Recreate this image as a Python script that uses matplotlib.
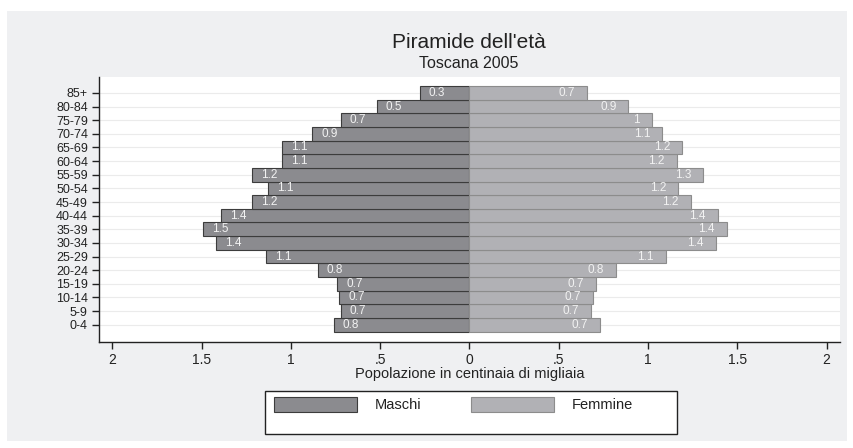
import matplotlib
matplotlib.use('Agg')
import matplotlib.pyplot as plt
from matplotlib.patches import Rectangle, Patch
import numpy as np

plt.rcParams['font.family'] = ['Liberation Sans', 'DejaVu Sans']

# age classes, bottom to top
age_groups = ['0-4', '5-9', '10-14', '15-19', '20-24', '25-29', '30-34', '35-39',
              '40-44', '45-49', '50-54', '55-59', '60-64', '65-69', '70-74',
              '75-79', '80-84', '85+']
# population in hundreds of thousands
maschi = [0.76, 0.72, 0.73, 0.74, 0.85, 1.14, 1.42, 1.49, 1.39, 1.22,
          1.13, 1.22, 1.05, 1.05, 0.88, 0.72, 0.52, 0.28]
femmine = [0.73, 0.68, 0.69, 0.71, 0.82, 1.10, 1.38, 1.44, 1.39, 1.24,
           1.17, 1.31, 1.16, 1.19, 1.08, 1.02, 0.89, 0.66]
xticks = [-2, -1.5, -1, -0.5, 0, 0.5, 1, 1.5, 2]
xtick_labels = ['2', '1.5', '1', '.5', '0', '.5', '1', '1.5', '2']

c_m = '#8b8b8f'
c_f = '#b1b1b5'
bg = '#eff0f2'

fig = plt.figure(figsize=(8.54, 4.48), dpi=100)
W, H = 854, 448
# grey outer region of the graph
fig.patches.append(Rectangle((7 / W, 1 - 441 / H), 840 / W, 430 / H,
                             transform=fig.transFigure, facecolor=bg,
                             edgecolor='none', zorder=-2))

ax = fig.add_axes([99 / W, 1 - 342 / H, 741 / W, 265 / H])
ax.set_facecolor('white')

y = np.arange(len(age_groups))
ax.barh(y, [-v for v in maschi], height=1.0, color=c_m, edgecolor='#3c3c3c',
        linewidth=0.8, zorder=2, label='Maschi')
ax.barh(y, femmine, height=1.0, color=c_f, edgecolor='#8c8c8c',
        linewidth=0.8, zorder=2, label='Femmine')

for yi, m, f in zip(y, maschi, femmine):
    ax.annotate('%g' % round(m, 1), (-m, yi), xytext=(9, 0), textcoords='offset pixels',
                ha='left', va='center', color='#f2f2f2', fontsize=8.5, zorder=3)
    ax.annotate('%g' % round(f, 1), (f, yi), xytext=(-12, 0), textcoords='offset pixels',
                ha='right', va='center', color='#f2f2f2', fontsize=8.5, zorder=3)

for yi in y:
    ax.axhline(yi, color='#ebebeb', linewidth=0.8, zorder=1)

ax.set_xlim(-2.075, 2.075)
ax.set_ylim(-1.27, len(age_groups) - 1 + 1.17)
ax.set_yticks(y)
ax.set_yticklabels(age_groups, fontsize=9, color='#222222')
ax.set_xticks(xticks)
ax.set_xticklabels(xtick_labels, fontsize=10, color='#222222')
ax.tick_params(axis='both', direction='out', length=5, width=1, color='#222222')
ax.tick_params(axis='y', pad=3)
ax.tick_params(axis='x', pad=3)
for s in ['top', 'right']:
    ax.spines[s].set_visible(False)
for s in ['left', 'bottom']:
    ax.spines[s].set_color('#222222')
    ax.spines[s].set_linewidth(1)
ax.set_xlabel('Popolazione in centinaia di migliaia', fontsize=10.5, color='#222222',
              labelpad=0)

fig.text(469 / W, 1 - 42 / H, "Piramide dell'età", ha='center', va='center',
         fontsize=15, color='#222222')
fig.text(469 / W, 1 - 63 / H, 'Toscana 2005', ha='center', va='center',
         fontsize=11.5, color='#222222')

# legend box
fig.patches.append(Rectangle((265 / W, 1 - 434 / H), 412 / W, 43 / H,
                             transform=fig.transFigure, facecolor='white',
                             edgecolor='#222222', linewidth=1, zorder=-1))
handles = [Patch(facecolor=c_m, edgecolor='#3c3c3c', linewidth=0.8),
           Patch(facecolor=c_f, edgecolor='#8c8c8c', linewidth=0.8)]
leg = fig.legend(handles, ['Maschi', 'Femmine'], loc='upper left',
                 bbox_to_anchor=(274 / W, 1 - 397 / H), ncol=2, frameon=False,
                 fontsize=10.5, handlelength=5.7, handleheight=1.2,
                 handletextpad=1.2, columnspacing=3.4, borderpad=0,
                 borderaxespad=0)
for t in leg.get_texts():
    t.set_color('#222222')

plt.savefig('out.png', dpi=100)
